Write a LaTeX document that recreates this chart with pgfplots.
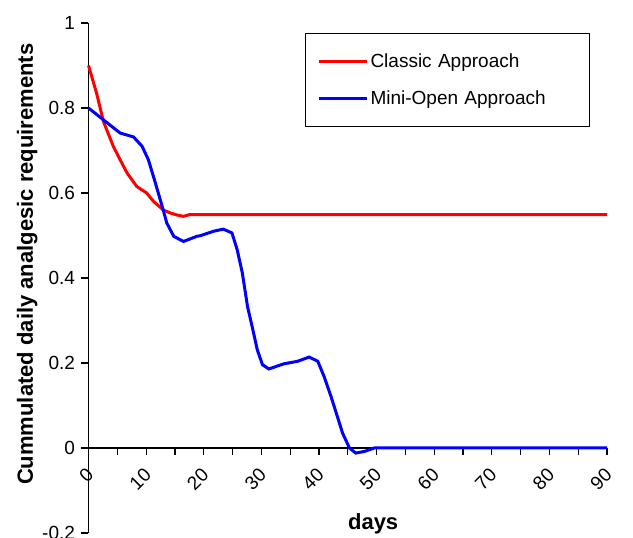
\documentclass[border=0pt]{standalone}
\usepackage{fontspec}
\setmainfont{Liberation Sans}
\usepackage{pgfplots}
\pgfplotsset{compat=1.18}
\begin{document}
\begin{tikzpicture}
\begin{axis}[
  scale only axis, width=518.5pt, height=510pt,
  at={(0,0)}, anchor=south west,
  xmin=0, xmax=90, ymin=-0.2, ymax=1,
  axis y line*=left, axis x line*=middle,
  hide obscured x ticks=false, hide obscured y ticks=false,
  axis line style={line width=1.2pt, black},
  xtick={0,10,...,90}, minor xtick={5,15,...,85},
  ytick={-0.2,0,0.2,0.4,0.6,0.8,1},
  yticklabels={-0.2,0,0.2,0.4,0.6,0.8,1},
  tick align=outside, major tick length=7pt, minor tick length=7pt,
  tick style={line width=1.2pt, black},
  /pgf/number format/assume math mode=true,
  ticklabel style={font=\fontsize{19}{22}\selectfont},
  yticklabel style={xshift=-3pt},
  xticklabel style={xshift=4pt, yshift=-14pt, rotate=45, anchor=east},
  xlabel={days}, ylabel={Cummulated daily analgesic requirements},
  xlabel style={font=\fontsize{22}{26}\selectfont\bfseries, at={(axis description cs:0.549,0.018)}, anchor=center},
  ylabel style={font=\fontsize{22}{26}\selectfont\bfseries, at={(axis description cs:-0.118,0.527)}, anchor=center},
  legend style={at={(rel axis cs:0.4176,0.98)}, anchor=north west, draw=black, line width=1pt,
    font=\fontsize{19}{22}\selectfont, inner xsep=12pt, inner ysep=18pt, row sep=18pt,
    /tikz/every even column/.append style={text width=205pt}},
  legend cell align=left,
  legend image code/.code={\draw[#1, line width=3pt] (0pt,0pt) -- (48pt,0pt);},
  clip=false,
]
\addplot[red, line width=3pt] coordinates {
(0,0.9) (1.4,0.835) (2.6,0.768) (4.3,0.71) (5.5,0.678) (6.7,0.647) (8.4,0.615)
(10.1,0.6) (11.3,0.58) (13.0,0.56) (14.2,0.553) (15.4,0.548) (16.5,0.545) (17.5,0.549) (90,0.549)
};
\addlegendentry{Classic Approach}
\addplot[blue, line width=3pt] coordinates {
(0,0.8) (2.6,0.772) (5.5,0.741) (7.8,0.732) (9.3,0.71) (10.4,0.678) (11.6,0.624)
(12.8,0.568) (13.6,0.529) (14.8,0.498) (16.5,0.486) (18.8,0.498) (19.4,0.4995)
(21.7,0.51) (23.4,0.515) (24.9,0.506) (25.8,0.467) (26.7,0.412) (27.6,0.333)
(28.4,0.286) (29.3,0.231) (30.2,0.196) (31.3,0.186) (33.9,0.198) (36.3,0.204)
(38.3,0.214) (39.8,0.204) (40.9,0.168) (42.1,0.121) (43.2,0.074) (44.1,0.035)
(45.3,0) (46.4,-0.012) (47.9,-0.008) (49.6,0) (90,0)
};
\addlegendentry{Mini-Open Approach}
\end{axis}
\pgfresetboundingbox
\path[use as bounding box] (-88.5pt,-5pt) rectangle (544.5pt,533pt);
\end{tikzpicture}
\end{document}
